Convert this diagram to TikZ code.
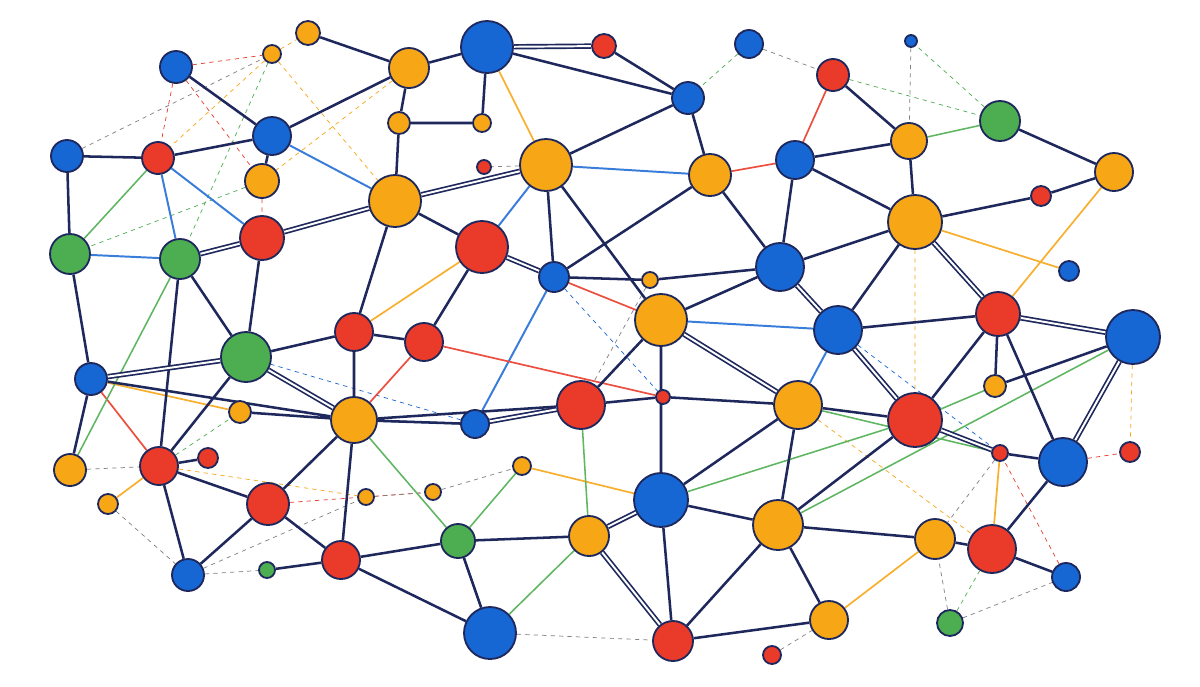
\documentclass[tikz,border=0pt]{standalone}
\usetikzlibrary{backgrounds}

\definecolor{nodeblue}{RGB}{22,102,212}
\definecolor{nodeorange}{RGB}{247,166,22}
\definecolor{nodered}{RGB}{234,58,42}
\definecolor{nodegreen}{RGB}{76,174,80}
\definecolor{navy}{RGB}{30,40,92}

\tikzstyle{vb} = [circle, draw=navy, line width=1.3pt, fill=nodeblue, inner sep=0pt]
\tikzstyle{vo} = [vb, fill=nodeorange]
\tikzstyle{vr} = [vb, fill=nodered]
\tikzstyle{vg} = [vb, fill=nodegreen]
\tikzstyle{link} = [draw=navy, line width=1.8pt]
\tikzstyle{twin} = [draw=navy, line width=1.2pt, double=white, double distance=1.4pt]
\tikzstyle{bline} = [draw=nodeblue!85, line width=1.4pt]
\tikzstyle{rline} = [draw=nodered!90, line width=1.2pt]
\tikzstyle{oline} = [draw=nodeorange!90, line width=1.2pt]
\tikzstyle{gline} = [draw=nodegreen!90, line width=1.1pt]
\tikzstyle{hair} = [line width=0.5pt, dashed]

\begin{document}
\begin{tikzpicture}[x=0.025cm, y=-0.025cm]
\useasboundingbox (0,0) rectangle (1200,686);

% blue nodes
\node [vb, minimum size=1.30cm] (b1) at (487,47) {};
\node [vb, minimum size=0.70cm] (b2) at (749,44) {};
\node [vb, minimum size=0.30cm] (b3) at (911,41) {};
\node [vb, minimum size=0.80cm] (b4) at (176,67) {};
\node [vb, minimum size=0.80cm] (b5) at (688,98) {};
\node [vb, minimum size=0.95cm] (b6) at (272,136) {};
\node [vb, minimum size=0.80cm] (b7) at (67,156) {};
\node [vb, minimum size=0.95cm] (b8) at (795,160) {};
\node [vb, minimum size=0.75cm] (b9) at (554,277) {};
\node [vb, minimum size=1.20cm] (b10) at (780,267) {};
\node [vb, minimum size=0.50cm] (b11) at (1069,271) {};
\node [vb, minimum size=1.20cm] (b12) at (838,330) {};
\node [vb, minimum size=1.35cm] (b13) at (1133,337) {};
\node [vb, minimum size=0.80cm] (b14) at (91,379) {};
\node [vb, minimum size=0.70cm] (b15) at (475,424) {};
\node [vb, minimum size=1.20cm] (b16) at (1063,462) {};
\node [vb, minimum size=1.35cm] (b17) at (661,500) {};
\node [vb, minimum size=0.80cm] (b18) at (188,575) {};
\node [vb, minimum size=0.70cm] (b19) at (1066,577) {};
\node [vb, minimum size=1.30cm] (b20) at (490,633) {};

% orange nodes
\node [vo, minimum size=0.60cm] (o1) at (308,33) {};
\node [vo, minimum size=1.00cm] (o2) at (409,68) {};
\node [vo, minimum size=0.45cm] (o3) at (272,54) {};
\node [vo, minimum size=0.90cm] (o4) at (909,141) {};
\node [vo, minimum size=0.95cm] (o5) at (1114,172) {};
\node [vo, minimum size=0.85cm] (o6) at (262,181) {};
\node [vo, minimum size=0.55cm] (o7) at (399,123) {};
\node [vo, minimum size=0.45cm] (o8) at (482,123) {};
\node [vo, minimum size=1.30cm] (o9) at (546,165) {};
\node [vo, minimum size=1.05cm] (o10) at (710,175) {};
\node [vo, minimum size=1.30cm] (o11) at (395,201) {};
\node [vo, minimum size=1.35cm] (o12) at (915,222) {};
\node [vo, minimum size=0.40cm] (o13) at (650,280) {};
\node [vo, minimum size=1.30cm] (o14) at (661,320) {};
\node [vo, minimum size=1.15cm] (o15) at (354,420) {};
\node [vo, minimum size=1.20cm] (o16) at (798,405) {};
\node [vo, minimum size=0.55cm] (o17) at (995,386) {};
\node [vo, minimum size=0.55cm] (o18) at (240,412) {};
\node [vo, minimum size=0.80cm] (o19) at (70,470) {};
\node [vo, minimum size=0.45cm] (o20) at (522,466) {};
\node [vo, minimum size=0.40cm] (o21) at (433,492) {};
\node [vo, minimum size=0.40cm] (o22) at (366,497) {};
\node [vo, minimum size=0.50cm] (o23) at (108,504) {};
\node [vo, minimum size=1.25cm] (o24) at (778,525) {};
\node [vo, minimum size=1.00cm] (o25) at (589,536) {};
\node [vo, minimum size=1.00cm] (o26) at (935,539) {};
\node [vo, minimum size=0.95cm] (o27) at (829,620) {};

% red nodes
\node [vr, minimum size=0.60cm] (r1) at (604,46) {};
\node [vr, minimum size=0.80cm] (r2) at (833,75) {};
\node [vr, minimum size=0.80cm] (r3) at (158,158) {};
\node [vr, minimum size=0.35cm] (r4) at (484,167) {};
\node [vr, minimum size=0.50cm] (r5) at (1041,196) {};
\node [vr, minimum size=1.10cm] (r6) at (262,238) {};
\node [vr, minimum size=1.30cm] (r7) at (482,247) {};
\node [vr, minimum size=0.95cm] (r8) at (354,332) {};
\node [vr, minimum size=0.95cm] (r9) at (424,342) {};
\node [vr, minimum size=1.10cm] (r10) at (998,314) {};
\node [vr, minimum size=1.20cm] (r11) at (581,405) {};
\node [vr, minimum size=1.35cm] (r12) at (915,420) {};
\node [vr, minimum size=0.95cm] (r13) at (159,466) {};
\node [vr, minimum size=0.50cm] (r14) at (208,458) {};
\node [vr, minimum size=0.50cm] (r15) at (1130,452) {};
\node [vr, minimum size=0.40cm] (r16) at (1000,453) {};
\node [vr, minimum size=1.05cm] (r17) at (268,504) {};
\node [vr, minimum size=1.20cm] (r18) at (992,549) {};
\node [vr, minimum size=0.95cm] (r19) at (341,560) {};
\node [vr, minimum size=1.00cm] (r20) at (673,641) {};
\node [vr, minimum size=0.45cm] (r21) at (772,655) {};
\node [vr, minimum size=0.35cm] (r22) at (663,397) {};

% green nodes
\node [vg, minimum size=1.00cm] (g1) at (1000,121) {};
\node [vg, minimum size=1.00cm] (g2) at (70,254) {};
\node [vg, minimum size=1.00cm] (g3) at (180,259) {};
\node [vg, minimum size=1.25cm] (g4) at (246,357) {};
\node [vg, minimum size=0.85cm] (g5) at (458,541) {};
\node [vg, minimum size=0.40cm] (g6) at (267,570) {};
\node [vg, minimum size=0.65cm] (g7) at (950,623) {};

\begin{scope}[on background layer]
\fill [white] (0,0) rectangle (1200,686);

% faint dashed links
\draw [hair, nodeorange] (o3) -- (o1) (o3) -- (r3) (o3) -- (o11) (o2) -- (o6)
  (o12) -- (r12) (b13) -- (r15) (o16) -- (r18) (r13) -- (o22);
\draw [hair, nodered] (b4) -- (r3) (b4) -- (o6) (o6) -- (r6) (b4) -- (o3)
  (b16) -- (r15) (r17) -- (o21) (b19) -- (r16);
\draw [hair, nodegreen] (o3) -- (g3) (r2) -- (g1) (g1) -- (b3) (b2) -- (b5)
  (o6) -- (g2) (r13) -- (o18) (g7) -- (r18);
\draw [hair, nodeblue] (b15) -- (g4) (b12) -- (r16) (b11) -- (o12) (b9) -- (r22);
\draw [hair, gray] (b3) -- (o4) (b7) -- (o3) (o19) -- (r13) (o23) -- (b18)
  (b18) -- (g6) (g7) -- (o26) (g7) -- (b19) (r21) -- (o27) (b20) -- (r20)
  (o22) -- (o21) (o21) -- (o20) (r16) -- (o26) (o13) -- (r11) (b2) -- (r2)
  (b18) -- (o22) (o9) -- (r4);

% coloured links
\draw [bline] (b6) -- (o11) (r3) -- (r6) (r3) -- (g3) (g2) -- (g3)
  (b9) -- (b15) (b12) -- (o16) (o9) -- (o10) (o9) -- (r7) (b15) -- (o15)
  (o14) -- (b12) (g5) -- (b20) (r10) -- (b13);
\draw [rline] (b14) -- (r13) (r2) -- (b8) (o10) -- (b8) (b9) -- (o14)
  (o12) -- (r10) (r9) -- (r22) (o15) -- (r9);
\draw [oline] (b1) -- (o9) (o12) -- (b11) (o5) -- (r10) (o20) -- (b17)
  (o26) -- (o27) (r7) -- (r8) (o14) -- (o16) (o23) -- (r13) (b14) -- (o18)
  (r16) -- (r18);
\draw [gline] (r3) -- (g2) (g4) -- (r8) (o14) -- (b10) (r11) -- (o25)
  (o25) -- (b20) (g5) -- (o20) (o17) -- (r12) (g1) -- (o4) (o16) -- (r16)
  (b13) -- (o24) (r12) -- (b17) (g3) -- (o19) (o15) -- (g5);

% main links
\draw [link] (o1) -- (o2) (b4) -- (b6) (b6) -- (o2) (b6) -- (r3) (b7) -- (r3)
  (b7) -- (g2) (b6) -- (o6) (o2) -- (o7) (o7) -- (o11) (o7) -- (o8)
  (o2) -- (b1) (b1) -- (b5) (b1) -- (o8) (r1) -- (b5) (b5) -- (o9)
  (b5) -- (o10) (o11) -- (r8) (r6) -- (g4) (g3) -- (g4) (g3) -- (r13)
  (g2) -- (b14) (o11) -- (r7) (o9) -- (b9) (o9) -- (o14) (o10) -- (b9)
  (o10) -- (b10) (b9) -- (o13) (o13) -- (b10) (o14) -- (b10) (o14) -- (r11)
  (o14) -- (b17) (r7) -- (r9) (r11) -- (r22) (r22) -- (o16) (b14) -- (o19)
  (g4) -- (r8) (g4) -- (r13) (r13) -- (r14) (r13) -- (r17) (r13) -- (b18)
  (r8) -- (o15) (r8) -- (r9) (o15) -- (r17) (o15) -- (r19) (r17) -- (r19)
  (r17) -- (b18) (g6) -- (r19) (o18) -- (o15) (o15) -- (b15) (r19) -- (g5)
  (r19) -- (b20) (b17) -- (o16) (b17) -- (o24) (b17) -- (r20) (o25) -- (g5)
  (g5) -- (b20) (o24) -- (r20) (o24) -- (o16) (o24) -- (o27) (r20) -- (o27)
  (r2) -- (o4) (b8) -- (o4) (b8) -- (o12) (b8) -- (b10) (o4) -- (o12)
  (g1) -- (o5) (o5) -- (r5) (r5) -- (o12) (o12) -- (b10) (o12) -- (b12)
  (b12) -- (r10) (r10) -- (o17) (r10) -- (r12) (r10) -- (b16) (o17) -- (b13)
  (r12) -- (o16) (r12) -- (o24) (r16) -- (b16) (b16) -- (r18) (r18) -- (o26)
  (r18) -- (b19) (o26) -- (o24) (b14) -- (o15) (r11) -- (o15);
\draw [twin] (b1) -- (r1) (g3) -- (r6) (r6) -- (o11) (o11) -- (o9)
  (b9) -- (r7) (b15) -- (r11) (b14) -- (g4) (g4) -- (o15) (b17) -- (o25)
  (o25) -- (r20) (o12) -- (r10) (b12) -- (r12) (r12) -- (r16) (b16) -- (b13)
  (o14) -- (o16) (r10) -- (b13) (b12) -- (b10);
\end{scope}
\end{tikzpicture}
\end{document}
